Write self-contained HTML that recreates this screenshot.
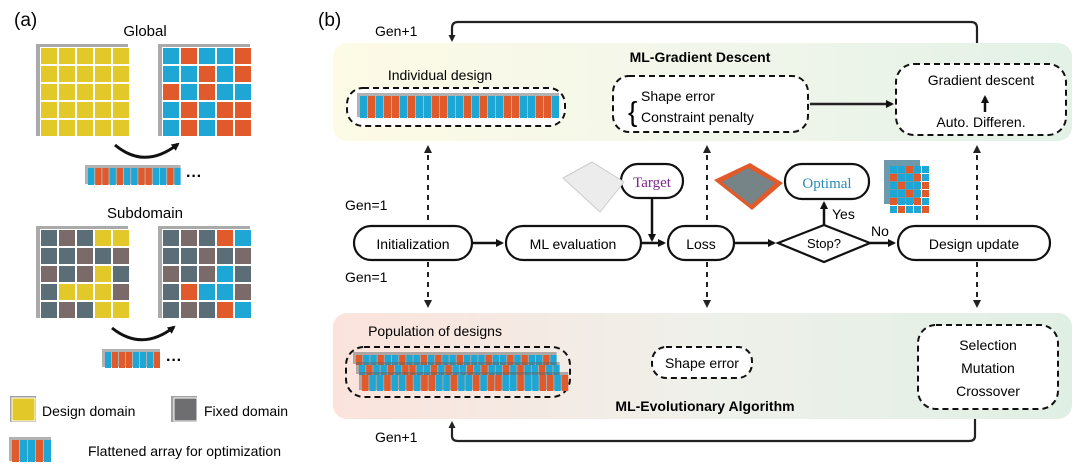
<!DOCTYPE html>
<html><head><meta charset="utf-8"><style>
body{margin:0;background:#fff}
svg{display:block;font-family:"Liberation Sans",Arial,sans-serif}
</style></head><body>
<svg id="s" width="1080" height="472" viewBox="0 0 1080 472" xmlns="http://www.w3.org/2000/svg">
<defs>
<linearGradient id="gt" x1="0" x2="1" y1="0" y2="0"><stop offset="0" stop-color="#fdfbe6"/><stop offset="0.5" stop-color="#f2f6ea"/><stop offset="1" stop-color="#e3f1e7"/></linearGradient>
<linearGradient id="gb" x1="0" x2="1" y1="0" y2="0"><stop offset="0" stop-color="#fbe3dc"/><stop offset="0.5" stop-color="#eff0ea"/><stop offset="1" stop-color="#e0efe4"/></linearGradient>
<marker id="ah" markerWidth="8" markerHeight="8" refX="6" refY="4" orient="auto" markerUnits="userSpaceOnUse"><path d="M0,0 L8,4 L0,8 z" fill="#111"/></marker>
<marker id="as" markerWidth="7" markerHeight="7" refX="5" refY="3.5" orient="auto" markerUnits="userSpaceOnUse"><path d="M0,0 L7,3.5 L0,7 z" fill="#222"/></marker>
</defs>
<text x="14" y="26" font-size="19">(a)</text>
<text x="318" y="26" font-size="19">(b)</text>
<text x="145" y="36" font-size="15" text-anchor="middle">Global</text>
<text x="145" y="218" font-size="15" text-anchor="middle">Subdomain</text>
<g id="grids"></g>
<path d="M115,145 Q145,170 178,144" fill="none" stroke="#111" stroke-width="3" marker-end="url(#ah)"/>
<path d="M112,328 Q142,352 174,327" fill="none" stroke="#111" stroke-width="3" marker-end="url(#ah)"/>
<text x="186" y="181" font-size="16" font-weight="bold">···</text>
<text x="166" y="365" font-size="16" font-weight="bold">···</text>
<rect x="10" y="396" width="26" height="26" fill="#444" opacity=".5"/>
<rect x="12" y="398" width="23" height="23" fill="#e3c82a" stroke="#fff"/>
<text x="42" y="416" font-size="14">Design domain</text>
<rect x="171" y="396" width="26" height="26" fill="#444" opacity=".5"/>
<rect x="174" y="398" width="23" height="23" fill="#6e6e70" stroke="#fff"/>
<text x="204" y="416" font-size="14">Fixed domain</text>
<g id="leg3"></g>
<text x="88" y="456" font-size="14">Flattened array for optimization</text>

<rect x="333" y="43" width="739" height="98" rx="14" fill="url(#gt)"/>
<rect x="333" y="313" width="739" height="106" rx="14" fill="url(#gb)"/>
<path d="M977,43 V28 Q977,22 971,22 H458 Q452,22 452,28 V40" fill="none" stroke="#222" stroke-width="2.2" marker-end="url(#as)"/>
<path d="M975,419 V436 Q975,441 969,441 H458 Q452,441 452,436 V423" fill="none" stroke="#222" stroke-width="2.2" marker-end="url(#as)"/>
<text x="375" y="36" font-size="14">Gen+1</text>
<text x="375" y="442" font-size="14">Gen+1</text>
<text x="700" y="62" font-size="14" font-weight="bold" text-anchor="middle">ML-Gradient Descent</text>
<text x="705" y="411" font-size="14" font-weight="bold" text-anchor="middle">ML-Evolutionary Algorithm</text>
<text x="440" y="80" font-size="14" text-anchor="middle">Individual design</text>
<text x="435" y="336" font-size="14" text-anchor="middle">Population of designs</text>
<g fill="#fff" stroke="#111" stroke-width="2" stroke-dasharray="6,4">
<rect x="347" y="88" width="218" height="38" rx="16"/>
<rect x="613" y="76" width="195" height="56" rx="16"/>
<rect x="896" y="64" width="170" height="71" rx="18"/>
<rect x="346" y="347" width="224" height="50" rx="18" fill="none"/>
<rect x="652" y="347" width="100" height="31" rx="14"/>
<rect x="918" y="325" width="140" height="84" rx="18"/>
</g>
<g id="arr"></g>
<text x="641" y="101" font-size="14">Shape error</text>
<text x="641" y="122" font-size="14">Constraint penalty</text>
<text x="628" y="121" font-size="28" font-weight="200">{</text>
<path d="M810,104 H892" stroke="#222" stroke-width="2.5" marker-end="url(#ah)"/>
<text x="981" y="85" font-size="14" text-anchor="middle">Gradient descent</text>
<text x="981" y="127" font-size="14" text-anchor="middle">Auto. Differen.</text>
<path d="M985,112 V97" stroke="#111" stroke-width="2.5" marker-end="url(#ah)"/>
<text x="702" y="368" font-size="14" text-anchor="middle">Shape error</text>
<text x="988" y="350" font-size="14" text-anchor="middle">Selection</text>
<text x="988" y="373" font-size="14" text-anchor="middle">Mutation</text>
<text x="988" y="396" font-size="14" text-anchor="middle">Crossover</text>

<g stroke="#222" stroke-width="2" stroke-dasharray="5,5" fill="none">
<path d="M428,155 V222"/><path d="M428,262 V300"/>
<path d="M707,155 V225"/><path d="M707,262 V300"/>
<path d="M977,155 V225"/><path d="M977,262 V300"/>
</g>
<g fill="#222">
<path d="M424,153 L428,145 L432,153z"/><path d="M703,153 L707,145 L711,153z"/><path d="M973,153 L977,145 L981,153z"/>
<path d="M424,300 L428,308 L432,300z"/><path d="M703,300 L707,308 L711,300z"/><path d="M973,300 L977,308 L981,300z"/>
</g>
<text x="345" y="210" font-size="14">Gen=1</text>
<text x="345" y="282" font-size="14">Gen=1</text>

<g fill="#fff" stroke="#111" stroke-width="2.2">
<rect x="354" y="226" width="118" height="34" rx="17"/>
<rect x="506" y="226" width="135" height="34" rx="17"/>
<rect x="668" y="226" width="66" height="34" rx="17"/>
<rect x="898" y="226" width="152" height="34" rx="17"/>
<path d="M824,225 L870,243 L824,262 L778,243z"/>
<rect x="621" y="164" width="62" height="34" rx="17"/>
<rect x="785" y="164" width="84" height="35" rx="17"/>
</g>
<text x="413" y="249" font-size="14" text-anchor="middle">Initialization</text>
<text x="573" y="249" font-size="14" text-anchor="middle">ML evaluation</text>
<text x="701" y="249" font-size="14" text-anchor="middle">Loss</text>
<text x="824" y="248" font-size="13" text-anchor="middle">Stop?</text>
<text x="974" y="249" font-size="14" text-anchor="middle">Design update</text>
<text x="652" y="187" font-size="15" fill="#7a2a8a" text-anchor="middle" font-family="Liberation Serif">Target</text>
<text x="827" y="188" font-size="15" fill="#2a8ab5" text-anchor="middle" font-family="Liberation Serif">Optimal</text>
<g stroke="#111" stroke-width="2.5">
<path d="M472,243 H502" marker-end="url(#ah)"/>
<path d="M641,243 H664" marker-end="url(#ah)"/>
<path d="M652,198 V240" marker-end="url(#ah)"/>
<path d="M734,243 H774" marker-end="url(#ah)"/>
<path d="M870,243 H894" marker-end="url(#ah)"/>
<path d="M824,225 V203" marker-end="url(#ah)"/>
</g>
<text x="832" y="219" font-size="14">Yes</text>
<text x="871" y="236" font-size="14">No</text>
<path d="M563,178 L592,162 L624,182 L600,212 Z" fill="#ececec" stroke="#ccc"/>
<path d="M714,180 L750,163 L783,183 L752,210 Z" fill="#e25a2a"/>
<path d="M722,182 L748,168 L775,183 L751,205 Z" fill="#1ea6d4" opacity=".55"/>
<g id="opt"></g>
</svg>
<script>
const NS="http://www.w3.org/2000/svg";
function R(p,x,y,w,h,f,extra){const r=document.createElementNS(NS,"rect");r.setAttribute("x",x);r.setAttribute("y",y);r.setAttribute("width",w);r.setAttribute("height",h);r.setAttribute("fill",f);if(extra)for(const k in extra)r.setAttribute(k,extra[k]);p.appendChild(r);return r;}
const C={Y:"#e3c82a",B:"#1ea6d4",O:"#e05a2b",G:"#5b6e78",M:"#7b6a6a"};
const g=document.getElementById("grids");
function grid(x,y,rows,cs){R(g,x-4,y-3,cs*5+2,cs*5+2,"#555",{opacity:.5});R(g,x,y,cs*5,cs*5,"#fff");rows.forEach((row,i)=>{[...row].forEach((c,j)=>{R(g,x+j*cs+1,y+i*cs+1,cs-2,cs-2,C[c]);});});}
grid(40,47,["YYYYY","YYYYY","YYYYY","YYYYY","YYYYY"],18);
grid(162,47,["BOBBO","BBOBO","OBOBB","BOBOO","BOBOO"],18);
grid(40,229,["GMGYY","GGMGM","MGMYG","GYYYM","GMGYY"],18);
grid(162,229,["GMGOB","GGMGM","MGMBG","GOBBM","GMGOB"],18);
function arr(p,x,y,n,w,h,pat){R(p,x-3,y-3,n*w+2,h+2,"#666",{opacity:.5});for(let i=0;i<n;i++)R(p,x+i*w,y,w-1,h,C[pat[i%pat.length]]);}
arr(g,88,168,13,7.2,17,"BOOBOBBOOBBOB");
arr(g,105,352,8,7,16,"BOOOBBBO");
arr(document.getElementById("leg3"),12,440,5,8,22,"OBBOB");
const a=document.getElementById("arr");
arr(a,360,96,25,8,22,"BOBOOBOBBOOBBOBOBBOOBBOOB");
arr(a,356,355,28,7.2,10,"OBBOBBOBBOBOBBOBBBOBBOBOBBOB");
arr(a,359,365,28,7.2,10,"BOBBOBOOBBOBOBBOBOBBOBOBBOB");
arr(a,362,375,28,7.4,16,"OBBOBBOBOOBBOBBOBOOBBOBBOOB");
const o=document.getElementById("opt");
R(o,884,160,36,44,"#2d6f8a",{opacity:.7});
const op=["BBOBB","OBBOB","BOBBO","BBOBO","OBBOB","BOBBO"];
op.forEach((row,i)=>[...row].forEach((c,j)=>R(o,890+j*8,166+i*8,7,7,C[c])));
</script>
</body></html>
